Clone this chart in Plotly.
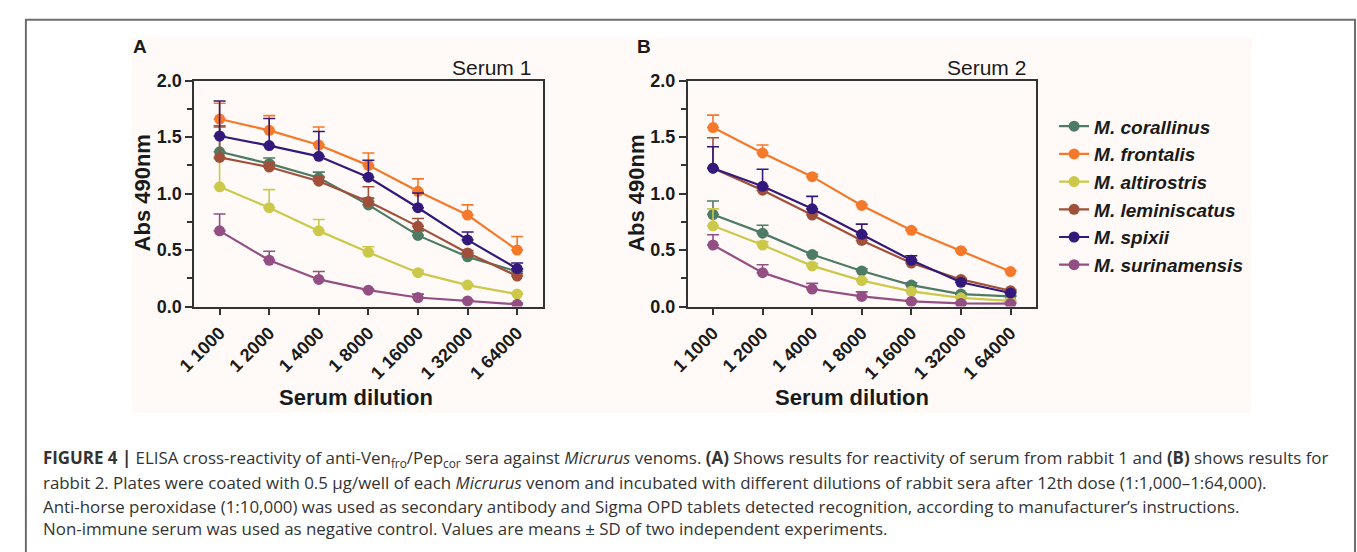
import plotly.graph_objects as go

W, H = 1357, 552

dilutions = ["1 1000", "1 2000", "1 4000", "1 8000", "1 16000", "1 32000", "1 64000"]
species = ["M. corallinus", "M. frontalis", "M. altirostris", "M. leminiscatus", "M. spixii", "M. surinamensis"]
colors = ["#4E7B63", "#F5792A", "#CBC84A", "#A0503A", "#33197A", "#934F83"]

# Serum 1 (panel A) means and SD
s1_corallinus = [1.37, 1.265, 1.14, 0.90, 0.63, 0.44, 0.31]
s1_frontalis = [1.66, 1.56, 1.43, 1.25, 1.02, 0.81, 0.50]
s1_altirostris = [1.06, 0.875, 0.67, 0.48, 0.30, 0.19, 0.11]
s1_leminiscatus = [1.32, 1.235, 1.11, 0.93, 0.71, 0.475, 0.27]
s1_spixii = [1.51, 1.425, 1.33, 1.145, 0.875, 0.59, 0.335]
s1_surinamensis = [0.67, 0.41, 0.24, 0.145, 0.08, 0.05, 0.02]

e1_corallinus = [0.23, 0.05, 0.05, 0.06, 0.04, 0.03, 0.02]
e1_frontalis = [0.14, 0.13, 0.16, 0.11, 0.11, 0.09, 0.12]
e1_altirostris = [0.25, 0.16, 0.10, 0.05, 0.02, 0.01, 0.01]
e1_leminiscatus = [0.27, 0.04, 0.04, 0.13, 0.07, 0.02, 0.02]
e1_spixii = [0.31, 0.24, 0.22, 0.15, 0.13, 0.07, 0.05]
e1_surinamensis = [0.15, 0.08, 0.07, 0.01, 0.03, 0.01, 0.01]

# Serum 2 (panel B) means and SD
s2_corallinus = [0.815, 0.65, 0.46, 0.315, 0.19, 0.11, 0.09]
s2_frontalis = [1.585, 1.36, 1.15, 0.895, 0.675, 0.495, 0.31]
s2_altirostris = [0.715, 0.545, 0.36, 0.23, 0.135, 0.077, 0.05]
s2_leminiscatus = [1.225, 1.03, 0.81, 0.585, 0.385, 0.24, 0.14]
s2_spixii = [1.225, 1.065, 0.865, 0.64, 0.41, 0.215, 0.12]
s2_surinamensis = [0.545, 0.30, 0.155, 0.09, 0.045, 0.028, 0.025]

e2_corallinus = [0.12, 0.07, 0.02, 0.02, 0.02, 0.01, 0.01]
e2_frontalis = [0.11, 0.07, 0.02, 0.01, 0.01, 0.01, 0.01]
e2_altirostris = [0.15, 0.03, 0.02, 0.01, 0.01, 0.01, 0.01]
e2_leminiscatus = [0.27, 0.03, 0.02, 0.02, 0.02, 0.01, 0.01]
e2_spixii = [0.19, 0.15, 0.11, 0.09, 0.04, 0.02, 0.01]
e2_surinamensis = [0.09, 0.07, 0.05, 0.04, 0.01, 0.01, 0.01]

serum1 = [s1_corallinus, s1_frontalis, s1_altirostris, s1_leminiscatus, s1_spixii, s1_surinamensis]
err1 = [e1_corallinus, e1_frontalis, e1_altirostris, e1_leminiscatus, e1_spixii, e1_surinamensis]
serum2 = [s2_corallinus, s2_frontalis, s2_altirostris, s2_leminiscatus, s2_spixii, s2_surinamensis]
err2 = [e2_corallinus, e2_frontalis, e2_altirostris, e2_leminiscatus, e2_spixii, e2_surinamensis]

FONT = "Liberation Sans, Arial, sans-serif"
CAPFONT = "Open Sans, Liberation Sans, sans-serif"

def px(x):
    return x / W

def py(y):
    return 1 - y / H

fig = go.Figure()

for (vals, errs, xa, ya, show) in [(serum1, err1, "x", "y", True), (serum2, err2, "x2", "y2", False)]:
    for i, name in enumerate(species):
        fig.add_trace(go.Scatter(
            x=dilutions, y=vals[i], xaxis=xa, yaxis=ya,
            mode="lines+markers", name=name, showlegend=show, legendgroup=name,
            line=dict(color=colors[i], width=2.2),
            marker=dict(color=colors[i], size=11),
            error_y=dict(type="data", symmetric=False, array=errs[i],
                         arrayminus=[0] * len(errs[i]), color=colors[i],
                         thickness=1.6, width=6),
        ))

axis_common = dict(
    showline=True, linecolor="#333333", linewidth=1.8, mirror=True,
    ticks="outside", tickcolor="#333333", tickwidth=1.8, ticklen=7,
    showgrid=False, zeroline=False,
    tickfont=dict(family=FONT, size=18, color="#1a1a1a", weight="bold"),
)

xdomA = [px(178.7), px(532)]
xdomB = [px(678.7), px(1032)]
ydom = [py(307.7), py(73.3)]

minor_y = dict(dtick=0.25, ticks="outside", ticklen=5, tickcolor="#333333", tickwidth=1.5)

fig.update_layout(
    width=W, height=H,
    margin=dict(l=0, r=0, t=0, b=0),
    paper_bgcolor="white", plot_bgcolor="rgba(0,0,0,0)",
    font=dict(family=FONT),
    xaxis=dict(domain=xdomA, anchor="y", type="category", range=[-0.51, 6.52],
               tickangle=-45, **axis_common),
    yaxis=dict(domain=ydom, anchor="x", range=[0, 2.0], dtick=0.5, tickformat=".1f",
               minor=minor_y, **axis_common),
    xaxis2=dict(domain=xdomB, anchor="y2", type="category", range=[-0.51, 6.52],
                tickangle=-45, **axis_common),
    yaxis2=dict(domain=ydom, anchor="x2", range=[0, 2.0], dtick=0.5, tickformat=".1f",
                minor=minor_y, **axis_common),
    legend=dict(x=px(1050), y=py(101), xanchor="left", yanchor="top",
                bgcolor="rgba(0,0,0,0)", tracegroupgap=0,
                font=dict(family=FONT, size=19, color="#1a1a1a", weight="bold", style="italic")),
    showlegend=True,
)

shapes = [
    dict(type="rect", xref="paper", yref="paper", x0=px(115), x1=px(1250), y0=py(418), y1=py(28),
         fillcolor="#FFFAF7", line=dict(width=0), layer="below"),
    dict(type="rect", xref="paper", yref="paper", x0=px(8), x1=px(1355), y0=py(570), y1=py(10),
         fillcolor="rgba(0,0,0,0)", line=dict(color="#6e6e6e", width=2)),
]
fig.update_layout(shapes=shapes)

ann = []
def add(text, x, y, xanchor="center", yanchor="middle", size=14, color="#1a1a1a",
        weight="normal", angle=0, family=FONT):
    ann.append(dict(text=text, x=px(x), y=py(y), xref="paper", yref="paper", showarrow=False,
                    xanchor=xanchor, yanchor=yanchor, textangle=angle,
                    font=dict(family=family, size=size, color=color, weight=weight)))

add("A", 124, 38, size=19, weight="bold")
add("B", 634, 38, size=19, weight="bold")
add("Serum 1", 522, 60, xanchor="right", size=21)
add("Serum 2", 1024, 60, xanchor="right", size=21)
add("Abs 490nm", 126, 190, size=22, weight="bold", angle=-90)
add("Abs 490nm", 626, 190, size=22, weight="bold", angle=-90)
add("Serum dilution", 343, 402, size=22, weight="bold")
add("Serum dilution", 845, 402, size=22, weight="bold")

cap_lines = [
    "<b>FIGURE 4 |</b> ELISA cross-reactivity of anti-Ven<sub>fro</sub>/Pep<sub>cor</sub> sera against <i>Micrurus</i> venoms. <b>(A)</b> Shows results for reactivity of serum from rabbit 1 and <b>(B)</b> shows results for",
    "rabbit 2. Plates were coated with 0.5 µg/well of each <i>Micrurus</i> venom and incubated with different dilutions of rabbit sera after 12th dose (1:1,000–1:64,000).",
    "Anti-horse peroxidase (1:10,000) was used as secondary antibody and Sigma OPD tablets detected recognition, according to manufacturer’s instructions.",
    "Non-immune serum was used as negative control. Values are means ± SD of two independent experiments.",
]
cap_y = [465, 490, 515, 538]
for t, yy in zip(cap_lines, cap_y):
    add(t, 23, yy, xanchor="left", size=16.9, color="#333333", family=CAPFONT)

fig.update_layout(annotations=ann)

fig.write_html("out.html")
